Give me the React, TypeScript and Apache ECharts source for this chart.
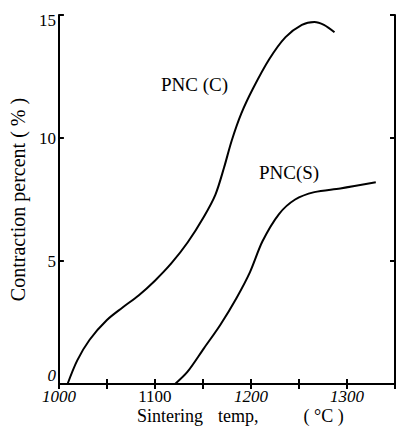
import React, { useEffect, useRef } from "react";
import * as echarts from "echarts";

const pncCX = [1009, 1019, 1032, 1050, 1066, 1083, 1100, 1117, 1134, 1151, 1163, 1172, 1180, 1190, 1202, 1219, 1236, 1253, 1266, 1276, 1287];
const pncCY = [0, 0.95, 1.8, 2.6, 3.1, 3.6, 4.2, 4.9, 5.75, 6.8, 7.7, 8.8, 9.9, 11.0, 12.0, 13.2, 14.1, 14.6, 14.72, 14.6, 14.3];
const pncSX = [1121, 1134, 1151, 1168, 1185, 1199, 1212, 1229, 1246, 1266, 1293, 1330];
const pncSY = [0, 0.5, 1.45, 2.4, 3.5, 4.55, 5.8, 6.9, 7.5, 7.8, 7.95, 8.2];
const xLabels = ["1000", "1100", "1200", "1300"];
const yLabels = ["0", "5", "10", "15"];
const seriesNames = ["PNC(C)", "PNC(S)"];

const FONT = "Liberation Serif";

export default function App() {
  const ref = useRef<HTMLDivElement>(null);
  useEffect(() => {
    const chart = echarts.init(ref.current!, null, { renderer: "svg" });
    const axisLine = { show: true, lineStyle: { color: "#000", width: 2 } };
    const tick = { show: true, inside: true, length: 5, lineStyle: { color: "#000", width: 2 } };
    chart.setOption({
      animation: false,
      backgroundColor: "#fff",
      grid: { left: 51, right: 2, top: 15, bottom: 45 },
      xAxis: [
        {
          type: "value",
          min: 1000,
          max: 1350,
          interval: 50,
          axisLine,
          axisTick: tick,
          splitLine: { show: false },
          axisLabel: {
            margin: 4,
            color: "#000",
            fontFamily: FONT,
            fontStyle: "italic",
            fontSize: 17,
            showMaxLabel: false,
            formatter: (v: number) => {
              const s = String(v);
              if (!xLabels.includes(s)) return "";
              if (s === "1100") return "{up|" + s + "}";
              return s;
            },
            rich: {
              up: { fontFamily: FONT, fontStyle: "normal", fontSize: 17, color: "#000" },
            },
          },
        },
        {
          type: "value",
          position: "top",
          min: 1000,
          max: 1350,
          interval: 50,
          axisLine,
          axisTick: tick,
          axisLabel: { show: false },
          splitLine: { show: false },
        },
      ],
      yAxis: [
        {
          type: "value",
          min: 0,
          max: 15,
          interval: 5,
          axisLine,
          axisTick: tick,
          splitLine: { show: false },
          axisLabel: {
            margin: 3,
            color: "#000",
            fontFamily: FONT,
            fontSize: 17,
            formatter: (v: number) => {
              const s = String(v);
              if (!yLabels.includes(s)) return "";
              if (s === yLabels[0]) return "{z|" + s + "}";
              if (s === yLabels[3]) return "{t|" + s + "}";
              return s;
            },
            rich: {
              z: { fontFamily: FONT, fontStyle: "italic", fontSize: 17, color: "#000", padding: [0, 0, 18, 0] },
              t: { fontFamily: FONT, fontSize: 17, color: "#000", padding: [10, 0, 0, 0] },
            },
          },
          name: "Contraction percent ( % )",
          nameLocation: "middle",
          nameGap: 23,
          nameTextStyle: { color: "#000", fontFamily: FONT, fontSize: 20 },
        },
        {
          type: "value",
          position: "right",
          min: 0,
          max: 15,
          interval: 5,
          axisLine,
          axisTick: tick,
          axisLabel: { show: false },
          splitLine: { show: false },
        },
      ],
      series: [
        {
          name: seriesNames[0],
          type: "line",
          smooth: 0.3,
          showSymbol: false,
          lineStyle: { color: "#000", width: 2 },
          data: pncCX.map((x, i) => [x, pncCY[i]]),
        },
        {
          name: seriesNames[1],
          type: "line",
          smooth: 0.3,
          showSymbol: false,
          lineStyle: { color: "#000", width: 2 },
          data: pncSX.map((x, i) => [x, pncSY[i]]),
        },
      ],
      graphic: [
        { type: "text", left: 161, top: 75, style: { text: "PNC (C)", fontFamily: FONT, fontSize: 19, fill: "#000" } },
        { type: "text", left: 259, top: 163, style: { text: "PNC(S)", fontFamily: FONT, fontSize: 19, fill: "#000" } },
        {
          type: "text",
          left: 137,
          top: 407,
          style: {
            text: "{a|Sintering}{b|temp,}{c|( °C )}",
            rich: {
              a: { fontFamily: FONT, fontSize: 18, fill: "#000" },
              b: { fontFamily: FONT, fontSize: 18, fill: "#000", padding: [0, 0, 0, 15] },
              c: { fontFamily: FONT, fontSize: 18, fill: "#000", padding: [0, 0, 0, 45] },
            },
          },
        },
      ],
    });
    return () => chart.dispose();
  }, []);
  return <div ref={ref} style={{ width: 397, height: 429, position: "absolute", left: 0, top: 0 }} />;
}
